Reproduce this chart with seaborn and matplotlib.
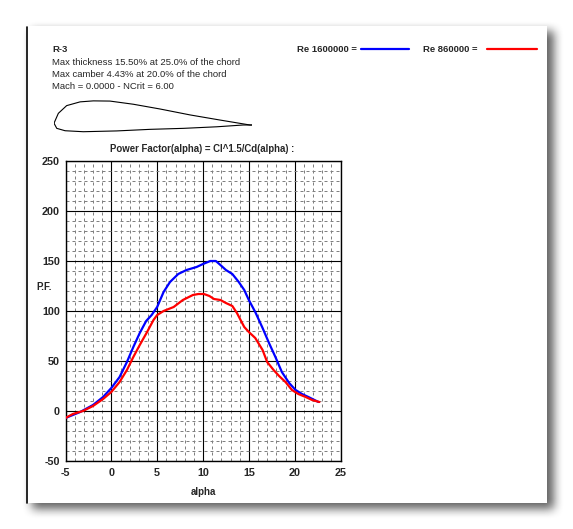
import numpy as np
import pandas as pd
import matplotlib
matplotlib.use('Agg')
import matplotlib.pyplot as plt
from matplotlib.patches import Rectangle
from matplotlib.lines import Line2D
import seaborn as sns

# polar data: power factor Cl^1.5/Cd vs alpha
alpha_hi = [-5.0, -3.4, -2.0, -0.9, 0.0, 0.9, 1.7, 2.4, 3.1, 3.8, 4.4, 5.0, 5.7, 6.4,
            7.3, 8.2, 9.3, 10.0, 10.8, 11.4, 11.9, 12.5, 13.2, 13.9, 14.5, 15.0,
            15.7, 16.5, 17.2, 17.9, 18.6, 19.4, 20.1, 20.8, 21.5, 22.6]
pf_hi = [-7, -1, 6, 14, 23, 34, 49, 64, 78, 90, 96, 104, 119, 129,
         137, 141, 144, 147, 150, 150, 146, 141, 137, 129, 121, 111,
         99, 83, 68, 54, 39, 28, 21, 17, 14, 9]

alpha_lo = [-5.0, -4.2, -3.1, -2.0, -0.9, 0.0, 0.9, 1.7, 2.4, 3.1, 3.9, 4.6, 5.0, 5.7,
            6.8, 7.8, 8.9, 9.5, 10.1, 10.7, 11.2, 11.9, 12.5, 13.2, 13.7, 14.5,
            15.0, 15.7, 16.5, 17.0, 17.7, 18.3, 19.0, 19.7, 20.4, 21.2, 21.9, 22.7]
pf_lo = [-7, -3, 0, 5, 12, 19, 29, 41, 54, 66, 79, 91, 96, 100,
         104, 111, 116, 117, 117, 115, 112, 111, 108, 105, 98, 84,
         79, 73, 61, 49, 41, 35, 29, 21, 17, 14, 11, 9]

# airfoil outline R-3, x/c and y/c
foil_up_x = [0.0, 0.022, 0.064, 0.132, 0.199, 0.283, 0.401, 0.536, 0.688, 0.840, 0.991, 1.0]
foil_up_y = [0.009, 0.059, 0.098, 0.117, 0.122, 0.121, 0.105, 0.081, 0.051, 0.025, 0.0, 0.0]
foil_lo_x = [0.0, 0.014, 0.056, 0.148, 0.317, 0.486, 0.654, 0.824, 0.957, 1.0]
foil_lo_y = [0.009, -0.017, -0.029, -0.034, -0.030, -0.022, -0.017, -0.009, 0.0, 0.0]

x_ticks = [-5, 0, 5, 10, 15, 20, 25]
y_ticks = [-50, 0, 50, 100, 150, 200, 250]

info_lines = ["Max thickness 15.50% at 25.0% of the chord",
              "Max camber 4.43% at 20.0% of the chord",
              "Mach = 0.0000 - NCrit = 6.00"]

sns.set_style("white")
plt.rcParams['font.family'] = ['Liberation Sans', 'DejaVu Sans']
plt.rcParams['axes.unicode_minus'] = False

W, H = 573, 529
fig = plt.figure(figsize=(W / 100, H / 100), dpi=100)
fig.patch.set_facecolor('white')


def fx(px):
    return px / W


def fy(py):
    return 1 - py / H


# soft drop shadow behind the sheet
mask = np.zeros((H, W))
mask[26 + 5:503 + 6, 26 + 6:547 + 7] = 1.0


def box_blur(a, r):
    k = np.ones(2 * r + 1) / (2 * r + 1)
    a = np.apply_along_axis(lambda v: np.convolve(v, k, mode='same'), 0, a)
    a = np.apply_along_axis(lambda v: np.convolve(v, k, mode='same'), 1, a)
    return a


soft = box_blur(box_blur(mask, 5), 5)
ax_bg = fig.add_axes([0, 0, 1, 1], zorder=0)
ax_bg.imshow(1 - 0.62 * soft, cmap='gray', vmin=0, vmax=1, aspect='auto',
             interpolation='bilinear', extent=(0, W, H, 0))
ax_bg.set_xlim(0, W)
ax_bg.set_ylim(H, 0)
ax_bg.add_patch(Rectangle((26, 26), 521, 477, facecolor='white', edgecolor='none', zorder=2))
ax_bg.plot([26.5, 26.5], [27, 503], color='black', lw=1.2, zorder=3)
ax_bg.axis('off')

# header text
fig.text(fx(52), fy(49.5), "R-3", fontsize=6.8, fontweight='bold', va='center', ha='left', zorder=3)
for k, line in enumerate(info_lines):
    fig.text(fx(52), fy(62.3 + 12.2 * k), line, fontsize=6.8, va='center', ha='left', zorder=3)

# legend
fig.text(fx(297), fy(49), "Re 1600000 =", fontsize=6.8, fontweight='bold', va='center', zorder=3)
fig.lines.append(Line2D([fx(361), fx(409)], [fy(49.3), fy(49.3)], transform=fig.transFigure,
                        color='#0000FF', lw=1.6, zorder=3))
fig.text(fx(423), fy(49), "Re 860000 =", fontsize=6.8, fontweight='bold', va='center', zorder=3)
fig.lines.append(Line2D([fx(487), fx(537)], [fy(49.3), fy(49.3)], transform=fig.transFigure,
                        color='#FF0000', lw=1.6, zorder=3))

# airfoil sketch
ax_f = fig.add_axes([fx(54), fy(135), 197.7 / W, 40 / H], zorder=3)
ax_f.plot(foil_up_x, foil_up_y, color='black', lw=0.8)
ax_f.plot(foil_lo_x, foil_lo_y, color='black', lw=0.8)
ax_f.set_xlim(0, 1)
ax_f.set_ylim(-0.0506, -0.0506 + 40 / 197.7)
ax_f.axis('off')

# main chart
ax = fig.add_axes([fx(65.5), fy(461), 275 / W, 300 / H], zorder=3)
ax.set_facecolor('white')
df_hi = pd.DataFrame({'alpha': alpha_hi, 'pf': pf_hi})
df_lo = pd.DataFrame({'alpha': alpha_lo, 'pf': pf_lo})
sns.lineplot(data=df_hi, x='alpha', y='pf', color='#0000FF', lw=1.6, ax=ax, estimator=None, zorder=5)
sns.lineplot(data=df_lo, x='alpha', y='pf', color='#FF0000', lw=1.6, ax=ax, estimator=None, zorder=6)

ax.set_xlim(-5, 25)
ax.set_ylim(-50, 250)
ax.set_xticks(x_ticks)
ax.set_yticks(y_ticks)
ax.set_xticks(np.arange(-5, 26, 1), minor=True)
ax.set_yticks(np.arange(-50, 251, 10), minor=True)
ax.grid(which='major', color='black', lw=0.8, ls='-', zorder=2)
ax.grid(which='minor', color='#808080', lw=0.72, ls=(0, (3, 3)), zorder=1)
ax.set_axisbelow(True)
ax.tick_params(which='both', length=0)
ax.tick_params(axis='y', pad=4)
ax.tick_params(axis='x', pad=5)
for lab in ax.get_xticklabels() + ax.get_yticklabels():
    lab.set_fontweight('bold')
    lab.set_fontsize(7.8)
for s in ax.spines.values():
    s.set_color('black')
    s.set_linewidth(1.0)
ax.set_xlabel('')
ax.set_ylabel('')

fig.text(fx(202), fy(149), "Power Factor(alpha) = Cl^1.5/Cd(alpha) :", fontsize=6.9,
         fontweight='bold', ha='center', va='center', zorder=4)
fig.text(fx(36), fy(287), "P.F.", fontsize=7, fontweight='bold', ha='left', va='center', zorder=4)
fig.text(fx(203), fy(492), "alpha", fontsize=7, fontweight='bold', ha='center', va='center', zorder=4)

fig.savefig('out.png', dpi=100)
